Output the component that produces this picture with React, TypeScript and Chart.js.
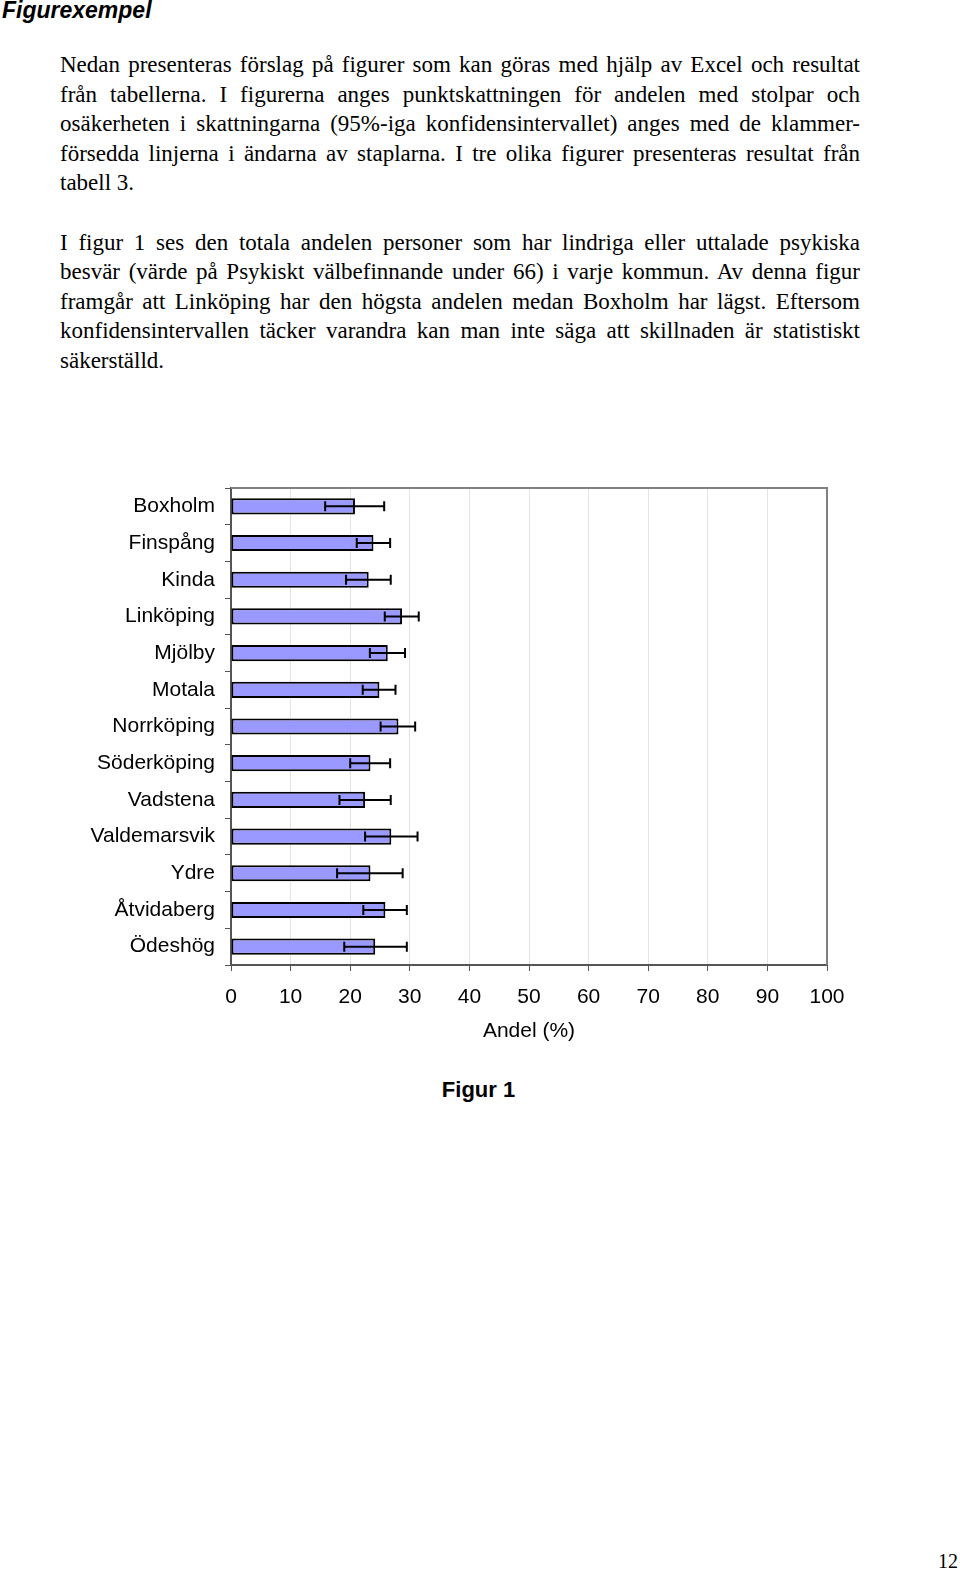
import React, { useEffect, useRef } from "react";
import { Chart, registerables } from "chart.js";

Chart.register(...registerables);

const categories = [
  "Boxholm",
  "Finspång",
  "Kinda",
  "Linköping",
  "Mjölby",
  "Motala",
  "Norrköping",
  "Söderköping",
  "Vadstena",
  "Valdemarsvik",
  "Ydre",
  "Åtvidaberg",
  "Ödeshög",
];

const shareValues = [20.8, 23.9, 23.1, 28.7, 26.3, 24.9, 28.1, 23.4, 22.5, 26.9, 23.4, 25.9, 24.2];
const ciLow = [15.8, 21.1, 19.3, 25.8, 23.3, 22.1, 25.1, 20.0, 18.2, 22.5, 17.8, 22.2, 19.0];
const ciHigh = [25.7, 26.7, 26.8, 31.5, 29.2, 27.6, 30.9, 26.7, 26.8, 31.3, 28.8, 29.5, 29.5];

const xTickValues = [0, 10, 20, 30, 40, 50, 60, 70, 80, 90, 100];

const paragraph1 = [
  "Nedan presenteras förslag på figurer som kan göras med hjälp av Excel och resultat",
  "från tabellerna. I figurerna anges punktskattningen för andelen med stolpar och",
  "osäkerheten i skattningarna (95%-iga konfidensintervallet) anges med de klammer-",
  "försedda linjerna i ändarna av staplarna. I tre olika figurer presenteras resultat från",
  "tabell 3.",
];

const paragraph2 = [
  "I figur 1 ses den totala andelen personer som har lindriga eller uttalade psykiska",
  "besvär (värde på Psykiskt välbefinnande under 66) i varje kommun. Av denna figur",
  "framgår att Linköping har den högsta andelen medan Boxholm har lägst. Eftersom",
  "konfidensintervallen täcker varandra kan man inte säga att skillnaden är statistiskt",
  "säkerställd.",
];

const SANS = "'Liberation Sans', Arial, sans-serif";
const SERIF = "'Liberation Serif', 'Times New Roman', serif";

const errorBarPlugin = {
  id: "errorBars",
  afterDatasetsDraw(chart: any) {
    const meta = chart.getDatasetMeta(0);
    const xScale = chart.scales.x;
    const ctx = chart.ctx;
    ctx.save();
    ctx.strokeStyle = "#000";
    ctx.lineWidth = 2;
    const cap = 5;
    meta.data.forEach((el: any, i: number) => {
      const y = el.y;
      const x1 = xScale.getPixelForValue(ciLow[i]);
      const x2 = xScale.getPixelForValue(ciHigh[i]);
      ctx.beginPath();
      ctx.moveTo(x1, y);
      ctx.lineTo(x2, y);
      ctx.moveTo(x1, y - cap);
      ctx.lineTo(x1, y + cap);
      ctx.moveTo(x2, y - cap);
      ctx.lineTo(x2, y + cap);
      ctx.stroke();
    });
    ctx.restore();
  },
};

const framePlugin = {
  id: "frame",
  afterDraw(chart: any) {
    const { ctx, chartArea } = chart;
    ctx.save();
    ctx.strokeStyle = "#808080";
    ctx.lineWidth = 2;
    ctx.beginPath();
    ctx.moveTo(chartArea.left, chartArea.top);
    ctx.lineTo(chartArea.right, chartArea.top);
    ctx.lineTo(chartArea.right, chartArea.bottom);
    ctx.stroke();
    ctx.restore();
  },
};

function BarChart() {
  const ref = useRef<HTMLCanvasElement | null>(null);
  useEffect(() => {
    if (!ref.current) return;
    const chart = new Chart(ref.current, {
      type: "bar",
      data: {
        labels: categories,
        datasets: [
          {
            data: shareValues,
            backgroundColor: "#9999FF",
            borderColor: "#000000",
            borderWidth: 2,
            borderSkipped: false,
            barPercentage: 0.44,
            categoryPercentage: 1,
          },
        ],
      },
      options: {
        indexAxis: "y",
        responsive: false,
        animation: false,
        layout: { padding: { top: 8, right: 133, left: 0, bottom: 0 } },
        plugins: {
          legend: { display: false },
          tooltip: { enabled: false },
        },
        scales: {
          x: {
            min: 0,
            max: 100,
            afterBuildTicks(scale: any) {
              scale.ticks = xTickValues.map((v) => ({ value: v }));
            },
            afterFit(scale: any) {
              scale.height = 83;
            },
            grid: {
              color: "#e4e4e4",
              lineWidth: 1,
              tickColor: "#555555",
              tickLength: 6,
            },
            border: { color: "#555555", width: 2 },
            ticks: {
              color: "#000",
              font: { family: SANS, size: 21 },
              padding: 14,
              maxRotation: 0,
              autoSkip: false,
            },
            title: {
              display: true,
              text: "Andel (%)",
              color: "#000",
              font: { family: SANS, size: 21 },
              padding: { top: 4, bottom: 4 },
            },
          },
          y: {
            afterFit(scale: any) {
              scale.width = 231;
              scale.paddingTop = 0;
              scale.paddingBottom = 0;
            },
            grid: {
              drawOnChartArea: false,
              offset: true,
              tickColor: "#555555",
              tickLength: 6,
            },
            border: { color: "#555555", width: 2 },
            ticks: {
              color: "#000",
              font: { family: SANS, size: 21 },
              padding: 10,
              autoSkip: false,
            },
          },
        },
      },
      plugins: [errorBarPlugin, framePlugin],
    } as any);
    return () => chart.destroy();
  }, []);
  return (
    <canvas
      ref={ref}
      width={960}
      height={568}
      style={{ position: "absolute", left: 0, top: 480, width: 960, height: 568 }}
    />
  );
}

function Paragraph({ lines, top }: { lines: string[]; top: number }) {
  return (
    <div
      style={{
        position: "absolute",
        left: 60,
        top,
        width: 800,
        fontFamily: SERIF,
        fontSize: 23,
        lineHeight: "29.6px",
        color: "#000",
      }}
    >
      {lines.map((l, i) => (
        <div
          key={i}
          style={{
            textAlign: i === lines.length - 1 ? "left" : "justify",
            textAlignLast: i === lines.length - 1 ? "left" : "justify",
            whiteSpace: "nowrap",
          }}
        >
          {l}
        </div>
      ))}
    </div>
  );
}

export default function App() {
  return (
    <div
      style={{
        position: "absolute",
        left: 0,
        top: 0,
        width: 960,
        height: 1570,
        background: "#fff",
        overflow: "hidden",
      }}
    >
      <div
        style={{
          position: "absolute",
          left: 2,
          top: -4,
          fontFamily: SANS,
          fontWeight: "bold",
          fontStyle: "italic",
          fontSize: 23,
          lineHeight: "28px",
          color: "#000",
        }}
      >
        Figurexempel
      </div>
      <Paragraph lines={paragraph1} top={50} />
      <Paragraph lines={paragraph2} top={227.6} />
      <BarChart />
      <div
        style={{
          position: "absolute",
          left: 0,
          width: 957,
          top: 1076,
          textAlign: "center",
          fontFamily: SANS,
          fontWeight: "bold",
          fontSize: 22,
          lineHeight: "28px",
          color: "#000",
        }}
      >
        Figur 1
      </div>
      <div
        style={{
          position: "absolute",
          right: 2,
          top: 1549,
          fontFamily: SERIF,
          fontSize: 20,
          lineHeight: "24px",
          color: "#000",
        }}
      >
        12
      </div>
    </div>
  );
}
